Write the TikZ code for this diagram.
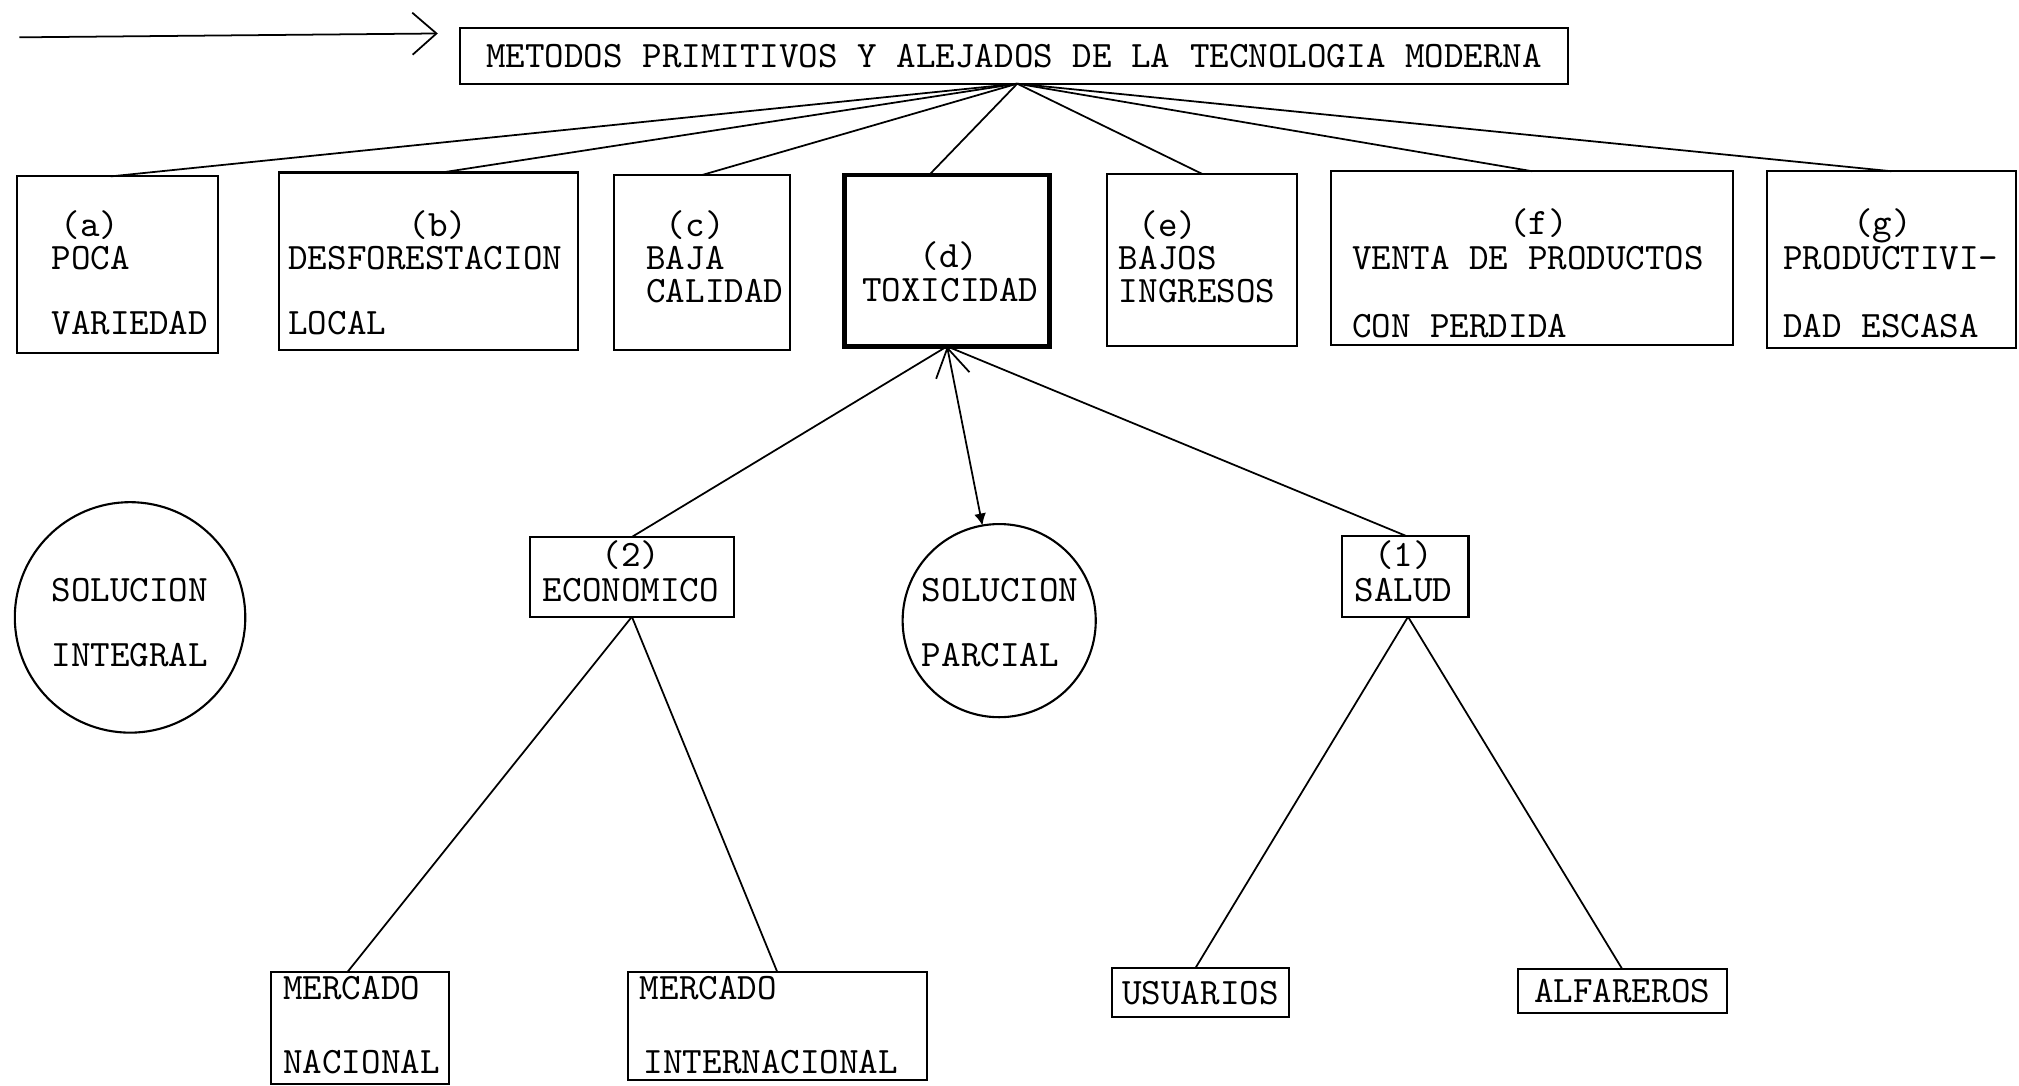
\documentclass[tikz,border=0pt]{standalone}
\usepackage{fontspec}
\usetikzlibrary{arrows.meta,calc}
\def\uu{0.012876cm}
\newcommand\twfont{\ttfamily\fontsize{10.6}{12}\selectfont}
\tikzset{
  box/.style={draw, line width=0.6pt, inner sep=0pt, outer sep=0pt, font=\twfont},
  thickbox/.style={box, line width=1.3pt},
  ring/.style={draw, circle, line width=0.6pt, inner sep=0pt, outer sep=0pt},
  lab/.style={inner sep=0pt, outer sep=0pt, font=\twfont},
  labw/.style={lab, anchor=base west},
  labc/.style={lab, anchor=base},
  link/.style={line width=0.5pt},
}
\begin{document}
\begin{tikzpicture}[x=0.012876cm, y=-0.012876cm]
\useasboundingbox (0,0) rectangle (1568,843);

% entry arrow
\coordinate (s0) at (15,29);
\coordinate (s1) at (340,26);
\draw[link, -{Straight Barb[length=0.24cm, width=0.42cm]}] (s0) -- (s1);

% title
\node[box, minimum width={861*\uu}, minimum height={43*\uu}] (title) at (787.5,43.5)
  {METODOS PRIMITIVOS Y ALEJADOS DE LA TECNOLOGIA MODERNA};
\coordinate (hub) at (790,65);

% first row boxes
\node[box, minimum width={156*\uu}, minimum height={137*\uu}] (a) at (91,205.5) {};
\node[box, minimum width={232*\uu}, minimum height={138*\uu}] (b) at (333,203) {};
\node[box, minimum width={137*\uu}, minimum height={136*\uu}] (c) at (545,204) {};
\node[thickbox, minimum width={159*\uu}, minimum height={133*\uu}] (d) at (735.5,202.5) {};
\node[box, minimum width={147*\uu}, minimum height={134*\uu}] (e) at (933.5,202) {};
\node[box, minimum width={312*\uu}, minimum height={135*\uu}] (f) at (1190,200.5) {};
\node[box, minimum width={194*\uu}, minimum height={137*\uu}] (g) at (1469,201.5) {};

% texts first row
\node[labc] (ta1) at (70,184) {(a)};
\node[labw] (ta2) at (40,209) {POCA};
\node[labw] (ta3) at (40,260) {VARIEDAD};
\node[labc] (tb1) at (340,184) {(b)};
\node[labw] (tb2) at (224,209) {DESFORESTACION};
\node[labw] (tb3) at (224,260) {LOCAL};
\node[labc] (tc1) at (540,184) {(c)};
\node[labw] (tc2) at (502,209) {BAJA};
\node[labw] (tc3) at (502,235) {CALIDAD};
\node[labc] (td1) at (737,208) {(d)};
\node[labc] (td2) at (738,234) {TOXICIDAD};
\node[labc] (te1) at (907,184) {(e)};
\node[labw] (te2) at (869,209) {BAJOS};
\node[labw] (te3) at (869,235) {INGRESOS};
\node[labc] (tf1) at (1195,182) {(f)};
\node[labw] (tf2) at (1050,209) {VENTA DE PRODUCTOS};
\node[labw] (tf3) at (1050,262) {CON PERDIDA};
\node[labc] (tg1) at (1462,182) {(g)};
\node[labw] (tg2) at (1385,209) {PRODUCTIVI-};
\node[labw] (tg3) at (1385,262) {DAD ESCASA};

% links from title
\draw[link] (hub) -- ($(a.north)+(-5,0)$);
\draw[link] (hub) -- ($(b.north)+(10,0)$);
\draw[link] (hub) -- (c.north);
\draw[link] (hub) -- ($(d.north)+(-14,0)$);
\draw[link] (hub) -- (e.north);
\draw[link] (hub) -- (f.north);
\draw[link] (hub) -- (g.north);

% middle row
\node[ring, minimum size={179*\uu}] (si) at (101,479.5) {};
\node[labw] (tsi1) at (40,467) {SOLUCION};
\node[labw] (tsi2) at (40,518) {INTEGRAL};

\node[box, minimum width={158.5*\uu}, minimum height={62*\uu}] (econ) at (490.75,448) {};
\node[labc] (te21) at (490,440) {(2)};
\node[labc] (te22) at (490,467) {ECONOMICO};

\node[ring, minimum size={150*\uu}] (pc) at (776,482) {};
\node[labw] (tpc1) at (716,467) {SOLUCION};
\node[labw] (tpc2) at (716,518) {PARCIAL};

\node[box, minimum width={98*\uu}, minimum height={63*\uu}] (salud) at (1091.5,447.5) {};
\node[labc] (ts1) at (1090,440) {(1)};
\node[labc] (ts2) at (1090,467) {SALUD};

\draw[link] (d.south) -- (econ.north);
\draw[link] (d.south) -- (salud.north);
\draw[link, {Straight Barb[length=0.28cm, width=0.34cm]}-{Latex[length=0.12cm, width=0.12cm]}] (d.south) -- (pc.100);

% bottom row
\node[box, minimum width={138*\uu}, minimum height={87*\uu}] (mn) at (279.75,798.5) {};
\node[labw] (tmn1) at (220,776) {MERCADO};
\node[labw] (tmn2) at (220,834) {NACIONAL};
\node[box, minimum width={232.6*\uu}, minimum height={84*\uu}] (mi) at (603.7,797) {};
\node[labw] (tmi1) at (497,776) {MERCADO};
\node[labw] (tmi2) at (500,834) {INTERNACIONAL};
\node[box, minimum width={137.4*\uu}, minimum height={38*\uu}] (us) at (932.3,771) {USUARIOS};
\node[box, minimum width={162.4*\uu}, minimum height={34*\uu}] (al) at (1259.8,769.5) {ALFAREROS};

\draw[link] (econ.south) -- ($(mn.north)+(-10,0)$);
\draw[link] (econ.south) -- (mi.north);
\draw[link] ($(salud.south)+(2,0)$) -- ($(us.north)+(-4,0)$);
\draw[link] ($(salud.south)+(2,0)$) -- (al.north);
\end{tikzpicture}
\end{document}
